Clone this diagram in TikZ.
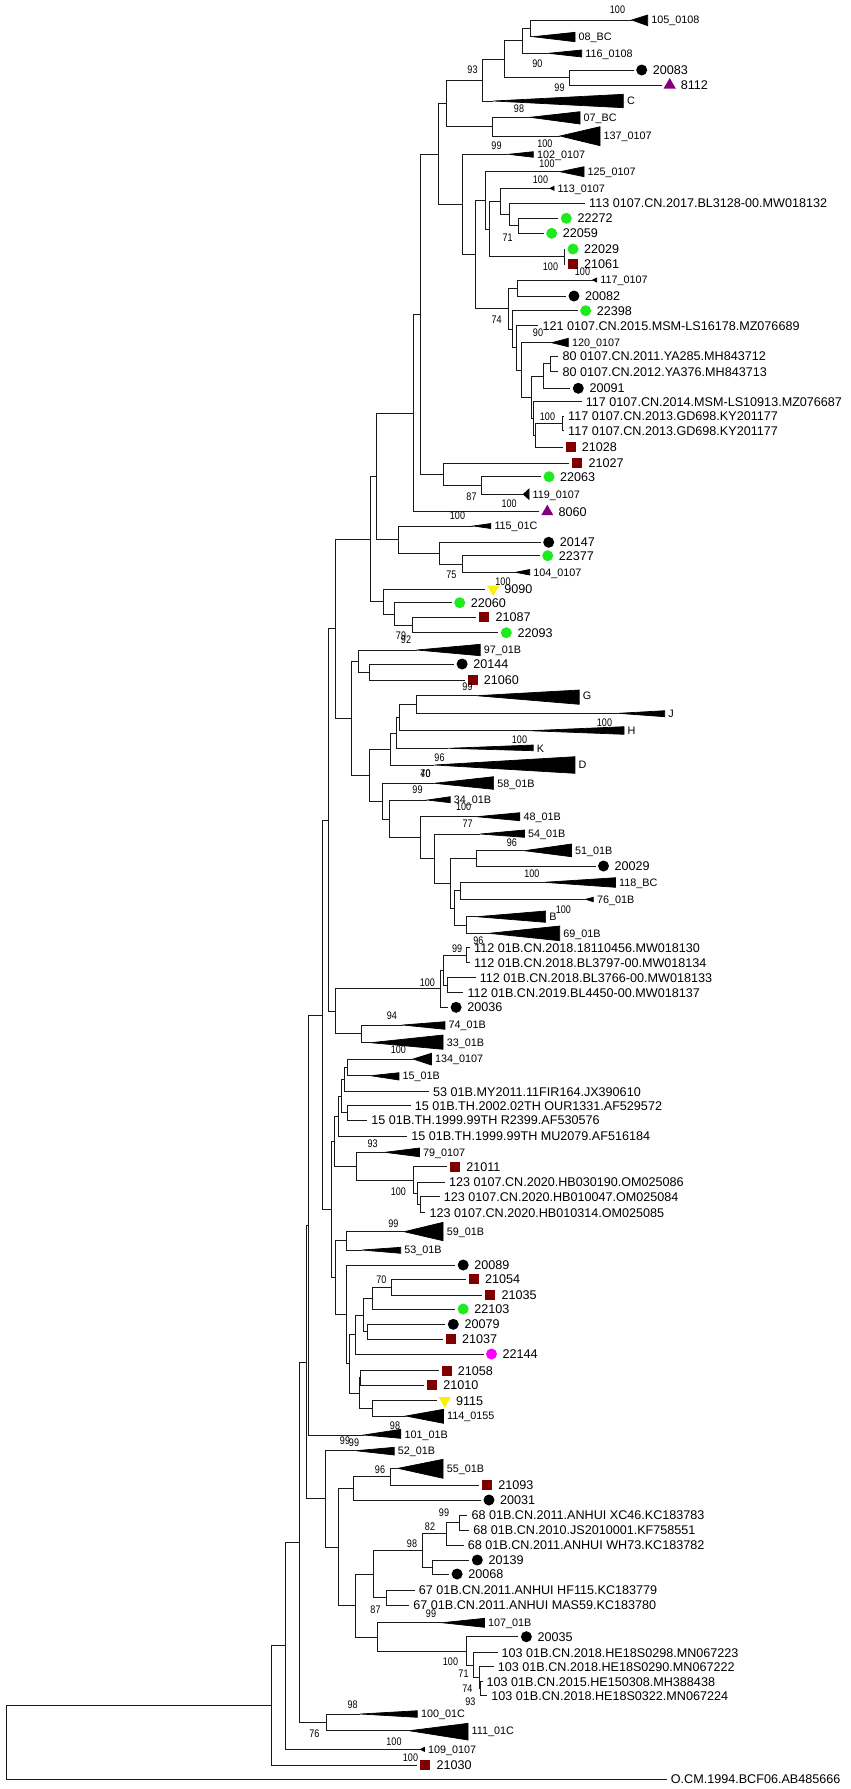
\documentclass[tikz,border=0pt]{standalone}
\usepackage{fontspec}
\setmainfont{Liberation Sans}
\newfontfamily\bsfont[FakeStretch=0.82]{Liberation Sans}
\usetikzlibrary{shapes.geometric}
\definecolor{grn}{RGB}{30,235,30}
\definecolor{sqred}{RGB}{128,0,0}
\definecolor{pur}{RGB}{128,0,128}
\definecolor{yel}{RGB}{250,240,0}
\definecolor{mag}{RGB}{255,0,255}
\tikzset{
  br/.style={line width=0.8pt, draw=black!90},
  clade/.style={fill=black, draw=black, line width=0.7pt, line join=miter},
  lab/.style={anchor=west, inner sep=0pt, font=\fontsize{12.6}{14}\selectfont, text height=9pt, text depth=0pt},
  clab/.style={anchor=west, inner sep=0pt, font=\fontsize{10.8}{12}\selectfont, text height=7.8pt, text depth=0pt},
  bsl/.style={inner sep=0pt, font=\bsfont\fontsize{11}{12}\selectfont, text height=7.9pt, text depth=0pt},
  mblk/.style={circle, fill=black, minimum size=11pt, inner sep=0pt},
  mgrn/.style={circle, fill=grn, minimum size=11pt, inner sep=0pt},
  mmag/.style={circle, fill=mag, minimum size=11pt, inner sep=0pt},
  msq/.style={rectangle, fill=sqred, minimum size=10pt, inner sep=0pt},
  mpur/.style={regular polygon, regular polygon sides=3, fill=pur, minimum size=14pt, inner sep=0pt},
  myel/.style={regular polygon, regular polygon sides=3, shape border rotate=180, fill=yel, minimum size=14pt, inner sep=0pt},
}
% clade leaf: name, y, apex, base, top, bottom, text
\newcommand\cleaf[7]{%
  \coordinate (#1) at (#3,#2);
  \path[clade] (#3,#2) -- (#4,#5) -- (#4,#6) -- cycle;
  \node[clab] (#1t) at ({#4+3.5},#2) {#7};}
% marker leaf: name, y, label x, marker style, text
\newcommand\mleaf[5]{%
  \coordinate (#1) at ({#3-19},#2);
  \node[#4] (#1m) at ({#3-11},#2) {};
  \node[lab] (#1t) at (#3,#2) {#5};}
% plain leaf: name, y, tip, text
\newcommand\pleaf[4]{%
  \coordinate (#1) at (#3,#2);
  \node[lab] (#1t) at ({#3+4},#2) {#4};}
\begin{document}
\begin{tikzpicture}[x=1pt,y=-1pt]
\fill[white] (0,0) rectangle (851,1789);
\useasboundingbox (0,0) rectangle (851,1789);
% ---------- internal nodes ----------
\coordinate (root) at (6.5,1742);
\coordinate (CT) at (271.1,1705.3);
\coordinate (CS) at (285.3,1645.7);
\coordinate (CU) at (299,1542);
\coordinate (CR) at (326.2,1722.3);
\coordinate (X2) at (306.8,1362);
\coordinate (X1) at (308.5,1225);
\coordinate (Y52) at (325.3,1498.8);
\coordinate (CZ) at (338.5,1546.9);
\coordinate (CY) at (353.8,1488.3);
\coordinate (CX) at (390.4,1476.7);
\coordinate (CJ) at (355.7,1605.4);
\coordinate (CI) at (373.7,1574);
\coordinate (CP) at (422.8,1550.4);
\coordinate (CN) at (446,1533.8);
\coordinate (CO) at (459,1522.5);
\coordinate (CG) at (432,1567);
\coordinate (CH) at (386.3,1597.5);
\coordinate (CK) at (377.5,1636.9);
\coordinate (CL) at (466.4,1651);
\coordinate (CM3) at (473.5,1665.2);
\coordinate (CM2) at (479,1677.7);
\coordinate (CM1) at (480.5,1688.7);
\coordinate (AM) at (321.9,1014.9);
\coordinate (AK) at (328.3,820.2);
\coordinate (BS) at (331.8,1209.4);
\coordinate (BR) at (334.5,1141.2);
\coordinate (BM) at (338.2,1116.1);
\coordinate (BL) at (341.7,1096.2);
\coordinate (BJ) at (344.2,1079.5);
\coordinate (BI) at (347.7,1067.3);
\coordinate (BK) at (347.7,1112.8);
\coordinate (BN) at (356.5,1166.2);
\coordinate (BO) at (413.1,1180.1);
\coordinate (BP) at (417.3,1193.5);
\coordinate (BQ) at (420.1,1204.7);
\coordinate (BU2) at (335.5,1277.6);
\coordinate (BT) at (345.9,1240.8);
\coordinate (BU) at (345.9,1314.4);
\coordinate (CD) at (349.5,1363.8);
\coordinate (BZ) at (355.5,1334.5);
\coordinate (BY) at (363.6,1314.9);
\coordinate (BW) at (372.4,1298.1);
\coordinate (BV) at (391.2,1287.2);
\coordinate (BX) at (367.1,1331.7);
\coordinate (CC) at (359.6,1393);
\coordinate (CA) at (360.8,1377.8);
\coordinate (CB) at (372.3,1408.3);
\coordinate (AI) at (335.3,628.6);
\coordinate (AL) at (335.3,1011.3);
\coordinate (BG) at (440,988.8);
\coordinate (BF) at (443,970.2);
\coordinate (BD) at (466.8,955.2);
\coordinate (BE) at (447.7,985.2);
\coordinate (BH) at (361.8,1033.8);
\coordinate (AD) at (370.7,538.9);
\coordinate (AJ) at (351.2,718.3);
\coordinate (AN) at (358.3,661);
\coordinate (AO) at (368.9,672);
\coordinate (AP) at (368.9,775);
\coordinate (AQ) at (390.1,749);
\coordinate (AS) at (396.5,733);
\coordinate (AU) at (399.6,717.6);
\coordinate (AT) at (416.6,704.5);
\coordinate (AR) at (382,801.1);
\coordinate (AV) at (389,818.9);
\coordinate (AW) at (420.1,837.7);
\coordinate (AX) at (434.3,858.7);
\coordinate (AZ) at (450.2,883.2);
\coordinate (AY) at (476.7,858.3);
\coordinate (BA) at (454.4,908);
\coordinate (BB) at (460.8,890.8);
\coordinate (BC) at (466.1,925);
\coordinate (AA) at (376,476.3);
\coordinate (AC) at (383,601.5);
\coordinate (AG) at (394.7,613.9);
\coordinate (AH) at (412.4,625);
\coordinate (J) at (413.3,413);
\coordinate (I) at (420.7,314.2);
\coordinate (AB) at (398.2,539.7);
\coordinate (AE) at (439.6,553.2);
\coordinate (AF) at (462.5,564);
\coordinate (K) at (443.3,474.4);
\coordinate (L) at (481.7,485.5);
\coordinate (H) at (438.3,154);
\coordinate (F) at (446,103.4);
\coordinate (E) at (482.7,80.1);
\coordinate (C) at (504,59.2);
\coordinate (B) at (522.7,40.8);
\coordinate (A) at (530.7,28.3);
\coordinate (D) at (569.3,77.5);
\coordinate (G) at (492.7,126.7);
\coordinate (N) at (462.7,204.5);
\coordinate (O) at (475,254.7);
\coordinate (P) at (485,200.8);
\coordinate (Q) at (489.3,229);
\coordinate (Q1) at (500,201.5);
\coordinate (Q2) at (509.3,214.7);
\coordinate (Q3) at (518.3,225.8);
\coordinate (R) at (564.3,256.5);
\coordinate (S) at (508.3,308.6);
\coordinate (W) at (517.3,288);
\coordinate (U) at (512.7,329.1);
\coordinate (V) at (516.7,347.5);
\coordinate (V2) at (521.7,370);
\coordinate (T3) at (531,397.3);
\coordinate (T2) at (543.3,376);
\coordinate (T1) at (550,363.8);
\coordinate (T3c) at (533,418.5);
\coordinate (T4) at (535.5,435.3);
\coordinate (GD) at (562.7,423.3);
% ---------- leaves ----------
\cleaf{l1}{20}{631.7}{647.7}{15}{25.7}{105\_0108}
\cleaf{l2}{36.7}{533}{575}{32.3}{41.7}{08\_BC}
\cleaf{l3}{53.3}{548.3}{581.7}{50}{57}{116\_0108}
\mleaf{l4}{70}{652.7}{mblk}{20083}
\mleaf{l5}{85}{680.7}{mpur}{8112}
\cleaf{l6}{101}{493.3}{623.3}{94.3}{107.7}{C}
\cleaf{l7}{117.3}{530}{580}{111.7}{124}{07\_BC}
\cleaf{l8}{136}{560}{600}{126.7}{145.7}{137\_0107}
\cleaf{l9}{154.3}{508.3}{533.3}{151.7}{157.3}{102\_0107}
\cleaf{l10}{171.7}{560}{584}{166.7}{176.7}{125\_0107}
\cleaf{l11}{188.3}{550}{554}{186.3}{190.3}{113\_0107}
\pleaf{l12}{203.3}{585}{113 0107.CN.2017.BL3128-00.MW018132}
\mleaf{l13}{218.3}{577.3}{mgrn}{22272}
\mleaf{l14}{233.3}{562.7}{mgrn}{22059}
\mleaf{l15}{249}{584}{mgrn}{22029}
\mleaf{l16}{264}{584}{msq}{21061}
\cleaf{l17}{280}{592.7}{596.7}{278}{282}{117\_0107}
\mleaf{l18}{296}{585}{mblk}{20082}
\mleaf{l19}{310.7}{596.7}{mgrn}{22398}
\pleaf{l20}{325.5}{538.3}{121 0107.CN.2015.MSM-LS16178.MZ076689}
\cleaf{l21}{342.7}{551.7}{568.3}{338.3}{346.7}{120\_0107}
\pleaf{l22}{356}{558.3}{80 0107.CN.2011.YA285.MH843712}
\pleaf{l23}{371.7}{558.3}{80 0107.CN.2012.YA376.MH843713}
\mleaf{l24}{388.3}{589.3}{mblk}{20091}
\pleaf{l25}{401.7}{581.7}{117 0107.CN.2014.MSM-LS10913.MZ076687}
\pleaf{l26}{416}{564}{117 0107.CN.2013.GD698.KY201177}
\pleaf{l27}{430.7}{564}{117 0107.CN.2013.GD698.KY201177}
\mleaf{l28}{447.3}{581.7}{msq}{21028}
\mleaf{l29}{463.3}{588.3}{msq}{21027}
\mleaf{l30}{476.7}{560}{mgrn}{22063}
\cleaf{l31}{494.3}{523.3}{529}{489}{499.3}{119\_0107}
\mleaf{l32}{511.7}{558.3}{mpur}{8060}
\cleaf{l33}{526}{473.1}{490.8}{523.5}{528.5}{115\_01C}
\mleaf{l34}{542.3}{559.7}{mblk}{20147}
\mleaf{l35}{555.7}{558.7}{mgrn}{22377}
\cleaf{l36}{572.3}{515.5}{529.7}{569.5}{575}{104\_0107}
\mleaf{l37}{589}{504.2}{myel}{9090}
\mleaf{l38}{602.7}{470.7}{mgrn}{22060}
\mleaf{l39}{617.3}{495.4}{msq}{21087}
\mleaf{l40}{632.7}{517.3}{mgrn}{22093}
\cleaf{l41}{650}{416.6}{480.2}{644.3}{655.7}{97\_01B}
\mleaf{l42}{664}{473.1}{mblk}{20144}
\mleaf{l43}{680}{483.7}{msq}{21060}
\cleaf{l44}{695.7}{476.7}{579.2}{690}{704.3}{G}
\cleaf{l45}{713.3}{618}{664.7}{710.7}{716.7}{J}
\cleaf{l46}{730.7}{529.7}{624}{726.7}{734.3}{H}
\cleaf{l47}{748.3}{448.4}{533.2}{745}{750.7}{K}
\cleaf{l48}{765}{434.3}{574.9}{756.7}{773.3}{D}
\cleaf{l49}{783.3}{434.3}{493.6}{776.7}{789.3}{58\_01B}
\cleaf{l50}{800}{427.2}{450.2}{796.7}{802.7}{34\_01B}
\cleaf{l51}{816.7}{476.7}{519.8}{812.7}{820.7}{48\_01B}
\cleaf{l52}{834}{480.2}{524.4}{830}{837.3}{54\_01B}
\cleaf{l53}{850.7}{524.4}{571.4}{844}{856.7}{51\_01B}
\mleaf{l54}{866}{614.5}{mblk}{20029}
\cleaf{l55}{882.3}{543.8}{615.5}{877.7}{887.3}{118\_BC}
\cleaf{l56}{899.3}{585.5}{593.3}{897.3}{901.7}{76\_01B}
\cleaf{l57}{916.7}{476.7}{545.6}{911}{922.3}{B}
\cleaf{l58}{933.3}{489}{559.7}{926}{940.7}{69\_01B}
\pleaf{l59}{947.7}{470}{112 01B.CN.2018.18110456.MW018130}
\pleaf{l60}{962.7}{470}{112 01B.CN.2018.BL3797-00.MW018134}
\pleaf{l61}{977.7}{475.6}{112 01B.CN.2018.BL3766-00.MW018133}
\pleaf{l62}{992.7}{463.3}{112 01B.CN.2019.BL4450-00.MW018137}
\mleaf{l63}{1007.3}{467.1}{mblk}{20036}
\cleaf{l64}{1025}{402.5}{444.9}{1021.7}{1029.3}{74\_01B}
\cleaf{l65}{1042.7}{370.7}{443.1}{1035}{1049.3}{33\_01B}
\cleaf{l66}{1059}{413.1}{431.4}{1053.3}{1065}{134\_0107}
\cleaf{l67}{1075.7}{370.7}{398.9}{1072.7}{1080}{15\_01B}
\pleaf{l68}{1091.7}{429}{53 01B.MY2011.11FIR164.JX390610}
\pleaf{l69}{1105.7}{410.6}{15 01B.TH.2002.02TH OUR1331.AF529572}
\pleaf{l70}{1120}{367.1}{15 01B.TH.1999.99TH R2399.AF530576}
\pleaf{l71}{1136}{407.1}{15 01B.TH.1999.99TH MU2079.AF516184}
\cleaf{l72}{1152.3}{384.8}{419.4}{1148}{1156.7}{79\_0107}
\mleaf{l73}{1166.7}{466.1}{msq}{21011}
\pleaf{l74}{1182.3}{444.9}{123 0107.CN.2020.HB030190.OM025086}
\pleaf{l75}{1196.7}{439.6}{123 0107.CN.2020.HB010047.OM025084}
\pleaf{l76}{1212.7}{425.4}{123 0107.CN.2020.HB010314.OM025085}
\cleaf{l77}{1231.7}{404.2}{443.1}{1222.3}{1240.7}{59\_01B}
\cleaf{l78}{1250}{361.8}{400.7}{1247.3}{1253.3}{53\_01B}
\mleaf{l79}{1265}{474.2}{mblk}{20089}
\mleaf{l80}{1279.3}{484.8}{msq}{21054}
\mleaf{l81}{1295}{501.4}{msq}{21035}
\mleaf{l82}{1309}{474.2}{mgrn}{22103}
\mleaf{l83}{1324.3}{464.3}{mblk}{20079}
\mleaf{l84}{1339}{461.8}{msq}{21037}
\mleaf{l85}{1354}{502.5}{mmag}{22144}
\mleaf{l86}{1370.7}{457.7}{msq}{21058}
\mleaf{l87}{1385}{443.1}{msq}{21010}
\mleaf{l88}{1400.7}{455.8}{myel}{9115}
\cleaf{l89}{1416}{405.8}{443.5}{1409.3}{1423.3}{114\_0155}
\cleaf{l90}{1435}{363.5}{400.8}{1429.3}{1438.3}{101\_01B}
\cleaf{l91}{1450.7}{355.8}{394.2}{1447.3}{1455}{52\_01B}
\cleaf{l92}{1468.3}{398}{443.1}{1459.3}{1478.3}{55\_01B}
\mleaf{l93}{1485}{498.1}{msq}{21093}
\mleaf{l94}{1500}{500}{mblk}{20031}
\pleaf{l95}{1515}{467.3}{68 01B.CN.2011.ANHUI XC46.KC183783}
\pleaf{l96}{1530}{469.2}{68 01B.CN.2010.JS2010001.KF758551}
\pleaf{l97}{1545}{463.7}{68 01B.CN.2011.ANHUI WH73.KC183782}
\mleaf{l98}{1560}{488.3}{mblk}{20139}
\mleaf{l99}{1574}{468.1}{mblk}{20068}
\pleaf{l100}{1590}{414.6}{67 01B.CN.2011.ANHUI HF115.KC183779}
\pleaf{l101}{1605}{409.2}{67 01B.CN.2011.ANHUI MAS59.KC183780}
\cleaf{l102}{1622.7}{441.9}{484.5}{1618.3}{1627.3}{107\_01B}
\mleaf{l103}{1636.7}{537.4}{mblk}{20035}
\pleaf{l104}{1652.7}{497.5}{103 01B.CN.2018.HE18S0298.MN067223}
\pleaf{l105}{1666.7}{493.7}{103 01B.CN.2018.HE18S0290.MN067222}
\pleaf{l106}{1681.7}{482.5}{103 01B.CN.2015.HE150308.MH388438}
\pleaf{l107}{1695.7}{487.2}{103 01B.CN.2018.HE18S0322.MN067224}
\cleaf{l108}{1714}{360}{417.3}{1710.7}{1717.3}{100\_01C}
\cleaf{l109}{1730.7}{409.2}{468}{1723.3}{1740}{111\_01C}
\cleaf{l110}{1749.3}{420.4}{424.4}{1747.3}{1751.3}{109\_0107}
\mleaf{l111}{1765}{436.4}{msq}{21030}
\pleaf{l112}{1779.3}{666.7}{O.CM.1994.BCF06.AB485666}
% ---------- branches ----------
\foreach \p/\c in {root/CT, root/l112, CT/CS, CT/l111, CS/CU, CS/l110, CU/X2, CU/CR,
  CR/l108, CR/l109, X2/X1, X2/Y52, X1/AM, X1/l90, Y52/l91, Y52/CZ, CZ/CY, CZ/CJ,
  CY/CX, CY/l94, CX/l92, CX/l93, CJ/CI, CJ/CK, CI/CP, CI/CH, CP/CN, CP/CG,
  CN/CO, CN/l97, CO/l95, CO/l96, CG/l98, CG/l99, CH/l100, CH/l101, CK/l102, CK/CL,
  CL/l103, CL/CM3, CM3/l104, CM3/CM2, CM2/l105, CM2/CM1, CM1/l106, CM1/l107,
  AM/AK, AM/BS, AK/AI, AK/AL, AI/AD, AI/AJ, AD/AA, AD/AC, AA/J, AA/AB,
  J/I, J/l32, I/H, I/K, H/F, H/N, F/E, F/G, E/C, E/l6, C/B, C/D, B/A, B/l3,
  A/l1, A/l2, D/l4, D/l5, G/l7, G/l8, N/l9, N/O, O/P, O/S, P/l10, P/Q,
  Q/Q1, Q/R, Q1/l11, Q1/Q2, Q2/l12, Q2/Q3, Q3/l13, Q3/l14, R/l15, R/l16,
  S/W, S/U, W/l17, W/l18, U/l19, U/V, V/l20, V/V2, V2/l21, V2/T3, T3/T2, T3/T3c,
  T2/T1, T2/l24, T1/l22, T1/l23, T3c/l25, T3c/T4, T4/GD, T4/l28, GD/l26, GD/l27,
  K/l29, K/L, L/l30, L/l31, AB/l33, AB/AE, AE/l34, AE/AF, AF/l35, AF/l36,
  AC/l37, AC/AG, AG/l38, AG/AH, AH/l39, AH/l40,
  AJ/AN, AJ/AP, AN/l41, AN/AO, AO/l42, AO/l43, AP/AQ, AP/AR, AQ/AS, AQ/l48,
  AS/AU, AS/l47, AU/AT, AU/l46, AT/l44, AT/l45, AR/l49, AR/AV, AV/l50, AV/AW,
  AW/l51, AW/AX, AX/l52, AX/AZ, AZ/AY, AZ/BA, AY/l53, AY/l54, BA/BB, BA/BC,
  BB/l55, BB/l56, BC/l57, BC/l58,
  AL/BG, AL/BH, BG/BF, BG/l63, BF/BD, BF/BE, BD/l59, BD/l60, BE/l61, BE/l62,
  BH/l64, BH/l65, BS/BR, BS/BU2, BR/BM, BR/BN, BM/BL, BM/l71, BL/BJ, BL/BK,
  BJ/BI, BJ/l68, BI/l66, BI/l67, BK/l69, BK/l70, BN/l72, BN/BO, BO/l73, BO/BP,
  BP/l74, BP/BQ, BQ/l75, BQ/l76, BU2/BT, BU2/BU, BT/l77, BT/l78, BU/l79, BU/CD,
  CD/BZ, CD/CC, BZ/BY, BZ/l85, BY/BW, BY/BX, BW/BV, BW/l82, BV/l80, BV/l81,
  BX/l83, BX/l84, CC/CA, CC/CB, CA/l86, CA/l87, CB/l88, CB/l89}
  \draw[br] (\p) |- (\c);
% ---------- bootstrap values ----------
\foreach \x/\y/\t [count=\i] in {617.5/10/100, 537.3/63.3/90, 472.5/70/93, 559.5/87.3/99,
  519/108.3/98, 496.5/145.7/99, 544.8/143.3/100, 547/163.3/100, 540.5/179.3/100,
  507.7/237.7/71, 550.5/266.7/100, 582.5/271.7/100, 496.7/320/74, 538/333/90,
  547.5/416.7/100, 471.5/496.7/87, 509.2/503.3/100, 457.5/516/100, 451.4/575/75,
  503/581.7/100, 401/636/79, 406/640/92, 467.5/686.7/99, 604.5/722.7/100,
  519.5/740/100, 439.5/757.7/96, 425.5/773.3/40, 425.5/773.3/70, 417.5/790/99,
  463.7/806.7/100, 467.7/824/77, 511.8/842.3/96, 531.8/873.3/100, 563.3/909.3/100,
  478.4/940.7/96, 457.2/948.3/99, 427.4/982.7/100, 391.9/1015.7/94, 398.3/1050/100,
  372.7/1144/93, 398.3/1191.7/100, 393.3/1223.3/99, 381.3/1280/70, 395/1426/98,
  345/1441/99, 354/1442.5/99, 380/1469.3/96, 444/1513/99, 430/1526.7/82,
  412/1544/98, 375.5/1609.3/87, 431/1614/99, 450.5/1661.7/100, 463.5/1674/71,
  467.3/1688.3/74, 470.3/1701.7/93, 352.7/1705/98, 314.4/1733.3/76,
  394/1741.7/100, 410.5/1757.3/100}
  \node[bsl] (bs\i) at (\x,\y) {\t};
\end{tikzpicture}
\end{document}
